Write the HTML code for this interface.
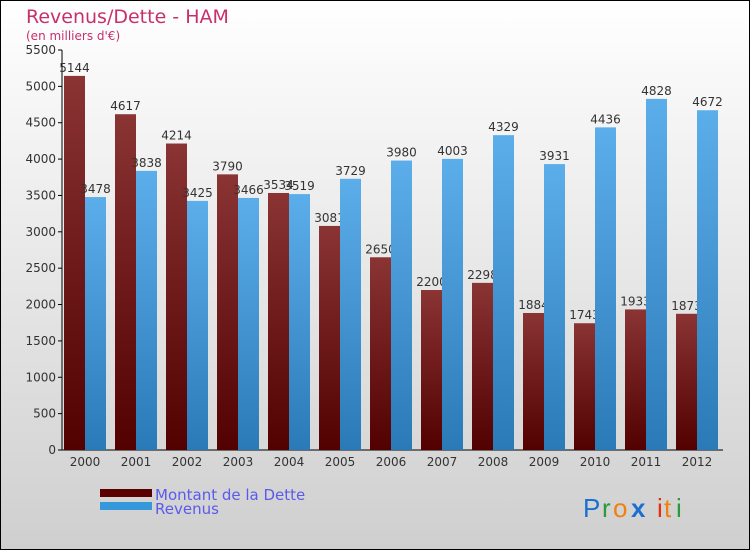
<!DOCTYPE html>
<html><head><meta charset="utf-8"><style>
body{margin:0;width:750px;height:550px;overflow:hidden}
svg{display:block;font-family:"DejaVu Sans","Liberation Sans",sans-serif}
</style></head><body>
<svg id="chart" width="750" height="550">
<defs>
<linearGradient id="bg" x1="0" y1="0" x2="0" y2="1"><stop offset="0" stop-color="#ffffff"/><stop offset="1" stop-color="#cfcfcf"/></linearGradient>
<linearGradient id="gd" x1="0" y1="0" x2="0" y2="1"><stop offset="0" stop-color="#8a3434"/><stop offset="1" stop-color="#520000"/></linearGradient>
<linearGradient id="gr" x1="0" y1="0" x2="0" y2="1"><stop offset="0" stop-color="#5caeea"/><stop offset="1" stop-color="#2a7ab8"/></linearGradient>
</defs>
<rect x="0.5" y="0.5" width="749" height="549" fill="url(#bg)" stroke="#000"/>
<text x="26" y="23" font-size="19" fill="#c8306a">Revenus/Dette - HAM</text>
<text x="26" y="40" font-size="12" fill="#c8306a">(en milliers d'€)</text>
<g id="axes"></g><g id="bars"></g>
<rect x="100" y="489" width="52" height="8" fill="#5a0000"/>
<rect x="100" y="502" width="52" height="8" fill="#3498db"/>
<text x="155" y="500" font-size="15" fill="#5a5aee">Montant de la Dette</text>
<text x="155" y="514" font-size="15" fill="#5a5aee">Revenus</text>
<g font-size="26" font-family="'Liberation Sans',sans-serif">
<text x="583" y="517" fill="#1a6fd0">P</text><text x="602" y="517" fill="#2a9a3a">r</text><text x="613" y="517" fill="#f08010">o</text><text x="631" y="517" fill="#1a6fd0" font-weight="bold">x</text><text x="657" y="517" fill="#e03010">i</text><text x="664" y="517" fill="#f08010">t</text><text x="676" y="517" fill="#2a9a3a">i</text>
</g>
</svg>
<script>
const years=["2000","2001","2002","2003","2004","2005","2006","2007","2008","2009","2010","2011","2012"];
const dette=[5144,4617,4214,3790,3534,3081,2650,2200,2298,1884,1743,1933,1873];
const revenus=[3478,3838,3425,3466,3519,3729,3980,4003,4329,3931,4436,4828,4672];
const ticks=[0,500,1000,1500,2000,2500,3000,3500,4000,4500,5000,5500];
const NS="http://www.w3.org/2000/svg";
const y=v=>450-v*400/5500, cx=i=>85+51*i, BW=21;
function mk(t,a,p,txt){const e=document.createElementNS(NS,t);for(const k in a)e.setAttribute(k,a[k]);if(txt!==undefined)e.textContent=txt;p.appendChild(e);return e;}
const ax=document.getElementById('axes'), bs=document.getElementById('bars');
let l=mk('line',{x1:62,y1:50,x2:62,y2:450,stroke:'#000'},ax);


l=mk('line',{x1:62,y1:450,x2:723,y2:450,stroke:'#000'},ax);


ticks.forEach(t=>{
 const tk=mk('line',{x1:58,y1:y(t),x2:62,y2:y(t),stroke:'#000'},ax);
 
 
 const tx=mk('text',{x:56,y:y(t)+4,'font-size':12,fill:'#333','text-anchor':'end'},ax,String(t));
 
 
});
years.forEach((yr,i)=>{
 const tx=mk('text',{x:cx(i),y:466,'font-size':12,fill:'#333','text-anchor':'middle'},ax,yr);
 
 
 const b=mk('rect',{x:cx(i)-BW,y:y(dette[i]),width:BW,height:450-y(dette[i]),fill:'url(#gd)'},bs);
 
 
 const v=mk('text',{x:cx(i)-BW/2,y:y(dette[i])-4,'font-size':12,fill:'#333','text-anchor':'middle'},bs,String(dette[i]));
 
 
});
years.forEach((yr,i)=>{
 const b=mk('rect',{x:cx(i),y:y(revenus[i]),width:BW,height:450-y(revenus[i]),fill:'url(#gr)'},bs);
 
 
 const v=mk('text',{x:cx(i)+BW/2,y:y(revenus[i])-4,'font-size':12,fill:'#333','text-anchor':'middle'},bs,String(revenus[i]));
 
 
});
</script>
</body></html>
